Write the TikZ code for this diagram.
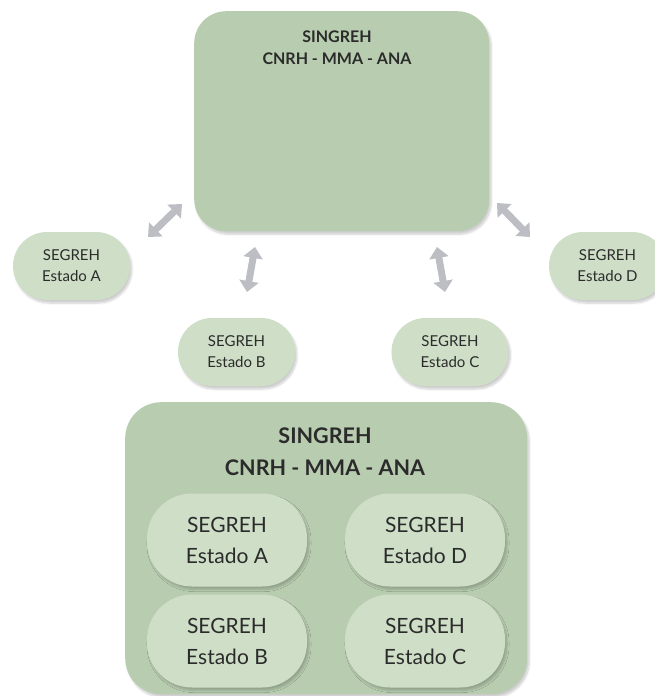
\documentclass[tikz,border=0pt]{standalone}
\usepackage{fontspec}
\setmainfont{Lato}
\usepackage{tikz}
\usetikzlibrary{arrows.meta}
\usetikzlibrary{shadows.blur}
\definecolor{boxgreen}{HTML}{B8CDB0}
\definecolor{nodegreen}{HTML}{CEDEC7}
\definecolor{arrowgray}{HTML}{BCBEC3}
\definecolor{textgray}{HTML}{2B2B2B}

\begin{document}
\begin{tikzpicture}[
    x=1pt, y=-1pt,
    soft shadow/.style={
        blur shadow={shadow xshift=2pt, shadow yshift=-3pt,
            shadow opacity=20, shadow blur steps=8}
    },
    big box/.style={
        fill=boxgreen, rounded corners=32pt, soft shadow,
        anchor=north west, inner sep=0pt
    },
    estado/.style={
        fill=nodegreen, rounded corners=34pt, soft shadow,
        minimum width=117pt, minimum height=68pt, inner sep=0pt,
        align=center, text=textgray,
        font=\fontsize{15}{21}\selectfont
    },
    inner estado/.style={
        fill=nodegreen, rounded corners=45pt, soft shadow,
        minimum width=160pt, minimum height=93pt, inner sep=0pt,
        align=center, text=textgray,
        font=\fontsize{21}{31}\selectfont
    },
    two way/.style={
        draw=arrowgray, line width=7pt,
        {Triangle[length=11pt,width=19pt]}-{Triangle[length=11pt,width=19pt]}
    }
]
\useasboundingbox (0,0) rectangle (654,696);

\node[big box, minimum width=295pt, minimum height=220pt] (top) at (194,11) {};
\node[align=center, text=textgray, font=\fontsize{16}{22}\selectfont\bfseries]
    (toptitle) at (337,48) {SINGREH\\CNRH - MMA - ANA};

\node[estado] (estA) at (71.5,266) {SEGREH\\Estado A};
\node[estado] (estB) at (236.5,352) {SEGREH\\Estado B};
\node[estado] (estC) at (450,352) {SEGREH\\Estado C};
\node[estado] (estD) at (607.5,266) {SEGREH\\Estado D};

\coordinate (a1) at (148,237);
\coordinate (b1) at (182,204);
\coordinate (a2) at (247,292);
\coordinate (b2) at (255,247);
\coordinate (a3) at (445,292);
\coordinate (b3) at (437,247);
\coordinate (a4) at (530,237);
\coordinate (b4) at (497,203);

\draw[two way] (a1) -- (b1);
\draw[two way] (a2) -- (b2);
\draw[two way] (a3) -- (b3);
\draw[two way] (a4) -- (b4);

\node[big box, rounded corners=36pt, minimum width=402pt, minimum height=292pt]
    (bottom) at (125,402) {};
\node[align=center, text=textgray, font=\fontsize{21.5}{32}\selectfont\bfseries]
    (bottomtitle) at (325,452) {SINGREH\\CNRH - MMA - ANA};

\node[inner estado] (inA) at (227,540) {SEGREH\\Estado A};
\node[inner estado] (inD) at (425,540) {SEGREH\\Estado D};
\node[inner estado] (inB) at (227,641) {SEGREH\\Estado B};
\node[inner estado] (inC) at (425,641) {SEGREH\\Estado C};

\end{tikzpicture}
\end{document}
